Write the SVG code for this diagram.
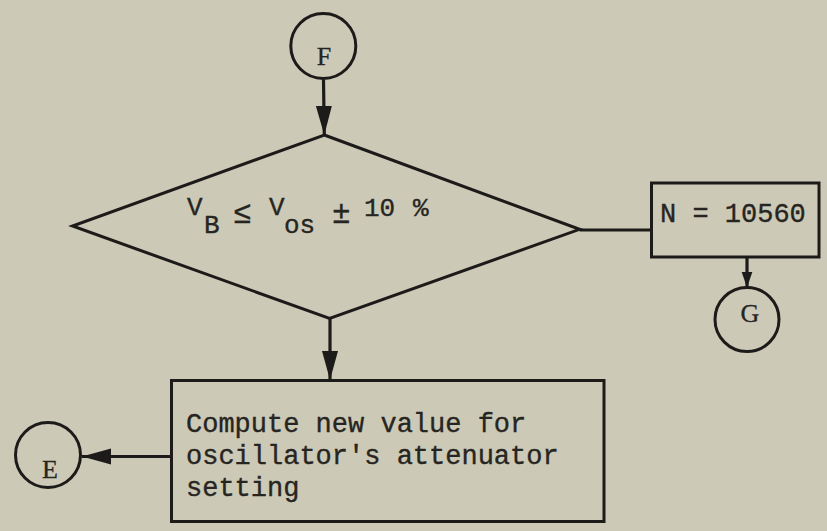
<svg xmlns="http://www.w3.org/2000/svg" width="827" height="531" viewBox="0 0 827 531">
  <style>
    .shape { fill: none; stroke: #1c1b19; stroke-width: 3; stroke-linejoin: miter; }
    .wire { fill: none; stroke: #1c1b19; stroke-width: 3.2; }
    .txt { font-family: "Liberation Mono", "DejaVu Sans Mono", monospace; fill: #262521; stroke: #262521; stroke-width: 0.35; }
    .big { font-size: 27px; }
    .mid { font-size: 26px; }
    .sym { font-size: 31px; }
    .lbl { font-family: "Liberation Serif", "DejaVu Serif", serif; font-size: 26px; text-anchor: middle; fill: #262521; stroke: #262521; stroke-width: 0.3; }
  </style>
  <defs>
    <marker id="arrow" markerUnits="userSpaceOnUse" markerWidth="32" markerHeight="18" refX="29" refY="8" orient="auto">
      <path d="M0,0 L29,8 L0,16 z" fill="#1c1b19"/>
    </marker>
    <marker id="arrowSmall" markerUnits="userSpaceOnUse" markerWidth="18" markerHeight="12" refX="16" refY="5.5" orient="auto">
      <path d="M0,0 L16,5.5 L0,11 z" fill="#1c1b19"/>
    </marker>
  </defs>

  <rect width="827" height="531" fill="#cdc9b7"/>

  <!-- connectors -->
  <g id="connectors">
    <line class="wire" x1="323.5" y1="80" x2="324.3" y2="135" marker-end="url(#arrow)"/>
    <line class="wire" x1="579.6" y1="230" x2="651.5" y2="230"/>
    <line class="wire" x1="747" y1="257" x2="747" y2="287.5" marker-end="url(#arrowSmall)"/>
    <line class="wire" x1="330" y1="319" x2="330" y2="380" marker-end="url(#arrow)"/>
    <line class="wire" x1="171.5" y1="456.5" x2="82" y2="456.5" marker-end="url(#arrow)"/>
  </g>

  <!-- connector F -->
  <g id="node-F">
    <circle class="shape" cx="323.3" cy="46" r="32.5"/>
    <text class="lbl" x="324" y="65">F</text>
  </g>

  <!-- decision -->
  <g id="node-decision">
    <polygon class="shape" points="324.3,135 579.6,229.3 329.6,318.5 72.5,226"/>
    <text class="txt mid" x="187" y="215">V</text>
    <text class="txt mid" x="204" y="233">B</text>
    <text class="txt sym" x="233" y="223">≤</text>
    <text class="txt mid" x="269" y="215">V</text>
    <text class="txt mid" x="284" y="233">os</text>
    <text class="txt sym" x="332" y="223">±</text>
    <text class="txt mid" x="364" y="216">10</text>
    <text class="txt mid" x="413" y="216">%</text>
  </g>

  <!-- N assignment -->
  <g id="node-N">
    <rect class="shape" x="651.5" y="183" width="167.5" height="74"/>
    <text class="txt big" x="660" y="221.7">N = 10560</text>
  </g>

  <!-- connector G -->
  <g id="node-G">
    <circle class="shape" cx="747" cy="319.5" r="32"/>
    <text class="lbl" x="750" y="322">G</text>
  </g>

  <!-- compute attenuator -->
  <g id="node-compute">
    <rect class="shape" x="171.5" y="380.5" width="432.5" height="141"/>
    <text class="txt big" x="186" y="432">Compute new value for</text>
    <text class="txt big" x="186" y="464">oscillator's attenuator</text>
    <text class="txt big" x="186" y="496">setting</text>
  </g>

  <!-- connector E -->
  <g id="node-E">
    <circle class="shape" cx="48" cy="455" r="32.5"/>
    <text class="lbl" x="50" y="478">E</text>
  </g>
</svg>
